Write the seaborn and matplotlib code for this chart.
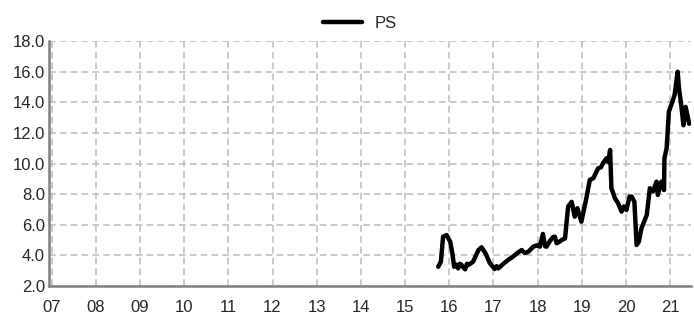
import numpy as np
import pandas as pd
import matplotlib
matplotlib.use('Agg')
import matplotlib.pyplot as plt
import seaborn as sns

# PS series (time in fractional years)
year = [2015.75, 2015.81, 2015.86, 2015.94, 2016.02, 2016.07, 2016.11, 2016.16, 2016.20,
        2016.24, 2016.28, 2016.32, 2016.36, 2016.40, 2016.43, 2016.54, 2016.66, 2016.73,
        2016.82, 2016.92, 2017.03, 2017.07, 2017.11, 2017.22, 2017.33, 2017.41, 2017.49,
        2017.56, 2017.64, 2017.71, 2017.79, 2017.90, 2018.01, 2018.05, 2018.12, 2018.17,
        2018.20, 2018.28, 2018.35, 2018.39, 2018.43, 2018.50, 2018.54, 2018.62, 2018.69,
        2018.77, 2018.84, 2018.90, 2018.99, 2019.11, 2019.18, 2019.26, 2019.32, 2019.37,
        2019.43, 2019.48, 2019.56, 2019.60, 2019.64, 2019.67, 2019.75, 2019.82, 2019.90,
        2019.95, 2020.01, 2020.08, 2020.13, 2020.19, 2020.24, 2020.29, 2020.35, 2020.47,
        2020.54, 2020.61, 2020.69, 2020.72, 2020.80, 2020.86, 2020.87, 2020.92, 2020.97,
        2021.05, 2021.10, 2021.17, 2021.20, 2021.26, 2021.30, 2021.35, 2021.43]
ps = [3.26, 3.59, 5.22, 5.33, 4.90, 4.14, 3.26, 3.40, 3.15,
      3.45, 3.37, 3.20, 3.09, 3.45, 3.37, 3.59, 4.35, 4.53,
      4.14, 3.48, 3.11, 3.30, 3.15, 3.44, 3.70, 3.85, 4.03,
      4.20, 4.35, 4.15, 4.24, 4.57, 4.68, 4.57, 5.40, 4.60,
      4.57, 4.95, 5.20, 5.22, 4.80, 4.90, 5.00, 5.11, 7.19,
      7.50, 6.53, 7.08, 6.20, 7.84, 8.93, 9.04, 9.40, 9.69,
      9.75, 10.02, 10.35, 10.10, 10.89, 8.39, 7.73, 7.41, 6.86,
      7.20, 6.97, 7.84, 7.84, 7.50, 4.68, 4.90, 5.77, 6.64,
      8.39, 8.17, 8.82, 7.95, 8.82, 8.27, 10.35, 11.00, 13.39,
      14.04, 14.48, 16.00, 14.90, 13.60, 12.50, 13.70, 12.60]

year_ticks = list(range(2007, 2022))
year_labels = ['%02d' % (y % 100) for y in year_ticks]
y_ticks = [2, 4, 6, 8, 10, 12, 14, 16, 18]

df = pd.DataFrame({'year': year, 'PS': ps})

sns.set_style('white')
plt.rcParams['font.family'] = ['Liberation Sans', 'DejaVu Sans']

fig = plt.figure(figsize=(6.94, 3.21), dpi=100)
ax = fig.add_axes([0.0706, 0.109, 0.925, 0.763])

sns.lineplot(data=df, x='year', y='PS', color='black', linewidth=3.2,
             label='PS', ax=ax)

ax.set_xlim(2006.94, 2021.47)
ax.set_ylim(2, 18)
ax.set_xticks(year_ticks)
ax.set_xticklabels(year_labels)
ax.set_xticks(np.arange(2007, 2021.5, 0.25), minor=True)
ax.set_yticks(y_ticks)
ax.set_yticklabels(['%.1f' % v for v in y_ticks])
ax.set_xlabel('')
ax.set_ylabel('')

ax.grid(True, which='major', color='#c0c0c0', linestyle=(0, (4, 2.5)), linewidth=1.2)
for s in ['top', 'right']:
    ax.spines[s].set_visible(False)
for s in ['left', 'bottom']:
    ax.spines[s].set_color('#808080')
    ax.spines[s].set_linewidth(1.8)

ax.tick_params(axis='x', which='both', direction='out', length=5, width=1.8,
               color='#808080', labelsize=12, pad=5)
ax.tick_params(axis='y', length=0, labelsize=12, pad=3)

ax.legend(loc='lower center', bbox_to_anchor=(0.485, 1.0), frameon=False,
          fontsize=12, handlelength=2.3, borderaxespad=0.2)

fig.savefig('out.png', dpi=100)
